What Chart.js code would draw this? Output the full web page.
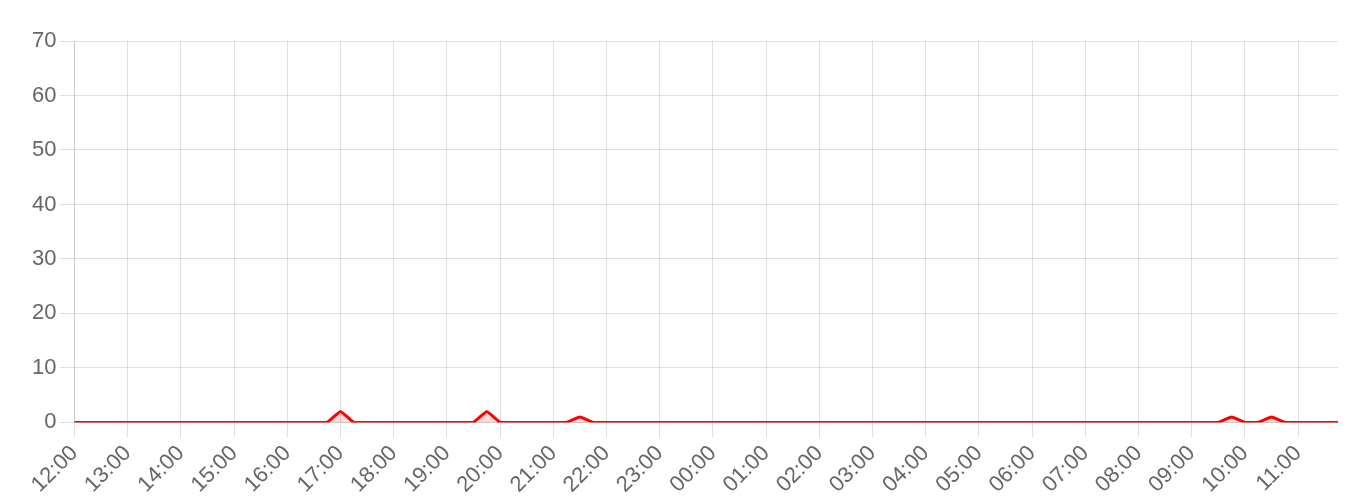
<!DOCTYPE html>
<html>
<head>
  <meta charset="UTF-8" />
  <script src="https://cdn.jsdelivr.net/npm/chart.js"></script>
  <style>
    body { margin: 0; background: #fff; }
    #wrap { width: 1360px; height: 503px; position: relative; }
  </style>
</head>
<body>
  <div id="wrap"><canvas id="chart"></canvas></div>
  <script>
    // 15-minute slots, 12:00 -> 11:45 next day
    const times = [
      "12:00","12:15","12:30","12:45","13:00","13:15","13:30","13:45",
      "14:00","14:15","14:30","14:45","15:00","15:15","15:30","15:45",
      "16:00","16:15","16:30","16:45","17:00","17:15","17:30","17:45",
      "18:00","18:15","18:30","18:45","19:00","19:15","19:30","19:45",
      "20:00","20:15","20:30","20:45","21:00","21:15","21:30","21:45",
      "22:00","22:15","22:30","22:45","23:00","23:15","23:30","23:45",
      "00:00","00:15","00:30","00:45","01:00","01:15","01:30","01:45",
      "02:00","02:15","02:30","02:45","03:00","03:15","03:30","03:45",
      "04:00","04:15","04:30","04:45","05:00","05:15","05:30","05:45",
      "06:00","06:15","06:30","06:45","07:00","07:15","07:30","07:45",
      "08:00","08:15","08:30","08:45","09:00","09:15","09:30","09:45",
      "10:00","10:15","10:30","10:45","11:00","11:15","11:30","11:45"
    ];

    const counts = [
      0,0,0,0,0,0,0,0,
      0,0,0,0,0,0,0,0,
      0,0,0,0,2,0,0,0,
      0,0,0,0,0,0,0,2,
      0,0,0,0,0,0,1,0,
      0,0,0,0,0,0,0,0,
      0,0,0,0,0,0,0,0,
      0,0,0,0,0,0,0,0,
      0,0,0,0,0,0,0,0,
      0,0,0,0,0,0,0,0,
      0,0,0,0,0,0,0,1,
      0,0,1,0,0,0,0,0
    ];

    const yMax = 70;
    const yStep = 10;

    new Chart(document.getElementById("chart"), {
      type: "line",
      data: {
        labels: times,
        datasets: [{
          data: counts,
          borderColor: "#ff0000",
          backgroundColor: "rgba(255, 0, 0, 0.15)",
          borderWidth: 3,
          pointRadius: 0,
          fill: true,
          tension: 0.1
        }]
      },
      options: {
        responsive: true,
        maintainAspectRatio: false,
        animation: false,
        layout: { padding: { left: 29, right: 22, top: 41, bottom: 2 } },
        plugins: { legend: { display: false }, tooltip: { enabled: false } },
        scales: {
          x: {
            grid: { color: "rgba(0,0,0,0.12)", tickLength: 15 },
            ticks: {
              color: "#666",
              font: { size: 22 },
              autoSkip: false,
              maxRotation: 45,
              minRotation: 45,
              callback: function (value) {
                const t = this.getLabelForValue(value);
                return t.endsWith(":00") ? t : null;
              }
            }
          },
          y: {
            min: 0,
            max: yMax,
            grid: { color: "rgba(0,0,0,0.12)", tickLength: 15 },
            ticks: { color: "#666", font: { size: 22 }, stepSize: yStep }
          }
        }
      }
    });
  </script>
</body>
</html>
